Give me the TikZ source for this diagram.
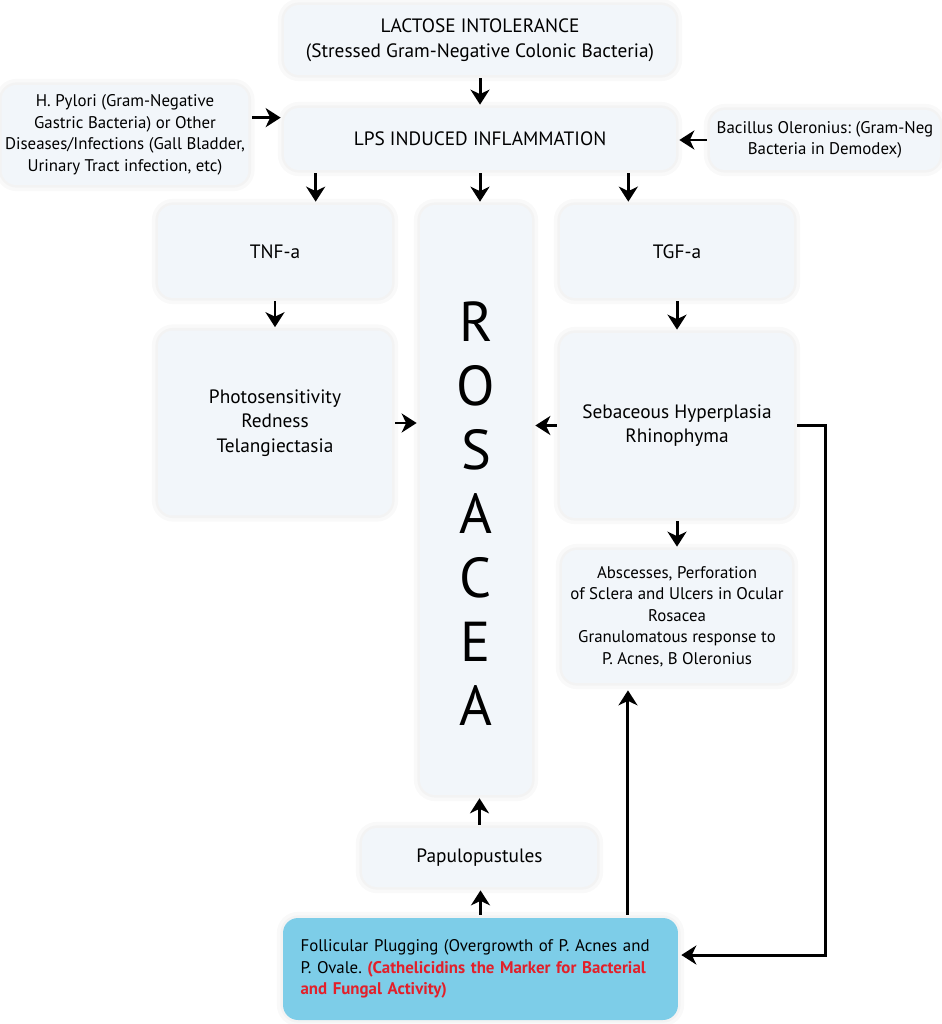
\documentclass[tikz,border=0pt]{standalone}
\usepackage{fontspec}
\setmainfont{PT Sans}
\usetikzlibrary{calc,arrows.meta}
\definecolor{boxfill}{RGB}{242,246,250}
\definecolor{plugblue}{RGB}{125,205,232}
\definecolor{markred}{RGB}{226,32,42}
\frenchspacing
\tikzset{
  box/.style={rounded corners=0.3cm, fill=boxfill, align=center, inner sep=2pt,
    preaction={draw=black, opacity=0.025, line width=7pt},
    preaction={draw=black, opacity=0.025, line width=3pt},
    font=\fontsize{11}{14}\selectfont},
  smalltext/.style={font=\fontsize{9.6}{12.3}\selectfont},
  rosa/.style={font=\fontsize{32}{32}\selectfont, inner sep=0pt},
  arr/.style={line width=1.7pt, -{Stealth[length=3mm,width=3.8mm,inset=0.9mm]},
    shorten <=0.6mm, shorten >=0.6mm},
}

\begin{document}
\begin{tikzpicture}[x=0.02cm, y=-0.02cm]
        \useasboundingbox (0,0) rectangle (942,1024);

        %nodes
        \node[box, minimum width=7.84cm, minimum height=1.4cm] (lact) at (480,40) {LACTOSE INTOLERANCE\\(Stressed Gram-Negative Colonic Bacteria)};
        \node[box, minimum width=7.84cm, minimum height=1.24cm] (lps) at (480,139) {LPS INDUCED INFLAMMATION};
        \node[box, smalltext, minimum width=4.9cm, minimum height=2cm] (hpy) at (125,135) {H. Pylori (Gram-Negative\\Gastric Bacteria) or Other\\Diseases/Infections (Gall Bladder,\\Urinary Tract infection, etc)};
        \node[box, smalltext, minimum width=4.6cm, minimum height=1.2cm] (bac) at (825,140) {Bacillus Oleronius: (Gram-Neg\\Bacteria in Demodex)};
        \node[box, minimum width=4.68cm, minimum height=1.86cm] (tnf) at (275,251.5) {TNF-a};
        \node[box, minimum width=4.68cm, minimum height=1.86cm] (tgf) at (677,251.5) {TGF-a};
        \node[box, minimum width=2.24cm, minimum height=11.8cm] (ros) at (476,500) {};
        \foreach \l [count=\i from 0] in {R,O,S,A,C,E,A}
          \node[rosa] (ros\i) at (476,322+64*\i) {\l};
        \node[box, minimum width=4.68cm, minimum height=3.7cm] (photo) at (275,423) {Photosensitivity\\Redness\\Telangiectasia};
        \node[box, minimum width=4.68cm, minimum height=3.7cm] (seb) at (677,425.5) {Sebaceous Hyperplasia\\Rhinophyma};
        \node[box, smalltext, minimum width=4.6cm, minimum height=2.66cm] (abs) at (677,616.5) {Abscesses, Perforation\\of Sclera and Ulcers in Ocular\\Rosacea\\Granulomatous response to\\P. Acnes, B Oleronius};
        \node[box, minimum width=4.7cm, minimum height=1.18cm] (pap) at (479.5,857.5) {Papulopustules};
        \node[box, smalltext, fill=plugblue, align=left, text width=7.2cm, inner xsep=0.35cm, minimum height=2.04cm] (foll) at (480.5,969) {Follicular Plugging (Overgrowth of P. Acnes and P. Ovale. \textcolor{markred}{\bfseries (Cathelicidins the Marker for Bacterial and Fungal Activity)}};

        %arrows
        \coordinate (lpsin) at ($(lps.north west)+(0,10)$);
        \draw[arr] (lact) -- (lps);
        \draw[arr] (hpy.east |- lpsin) -- (lpsin);
        \draw[arr] (bac.west) -- (bac.west -| lps.east);
        \draw[arr] ([xshift=0.64cm]lps.south west) -- ([xshift=0.64cm]lps.south west |- tnf.north);
        \draw[arr] (lps.south) -- (lps.south |- ros.north);
        \draw[arr] ([xshift=-0.96cm]lps.south east) -- ([xshift=-0.96cm]lps.south east |- tgf.north);
        \draw[arr] (tnf) -- (photo);
        \draw[arr] (tgf) -- (seb);
        \draw[arr] (photo.east) -- (photo.east -| ros.west);
        \draw[arr] (seb.west) -- (seb.west -| ros.east);
        \draw[arr] (seb) -- (abs);
        \draw[arr] (seb.east) -- ++(31,0) |- ([yshift=0.28cm]foll.east);
        \draw[arr, shorten >=1.4mm] ([xshift=2.95cm]foll.north) -- ([xshift=2.95cm]foll.north |- abs.south);
        \draw[arr] (foll.north) -- (foll.north |- pap.south);
        \draw[arr] (pap.north) -- (pap.north |- ros.south);

        \end{tikzpicture}
\end{document}
